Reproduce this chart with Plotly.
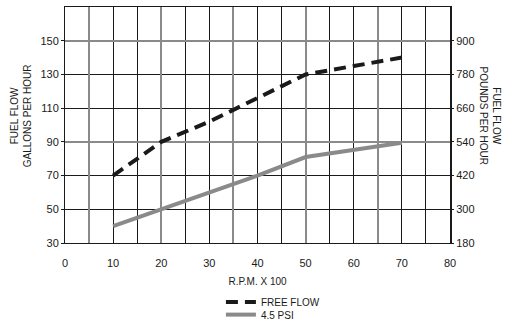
import plotly.graph_objects as go

rpm = [10, 20, 30, 40, 50, 60, 70]
free_flow = [70, 90, 102, 116, 130, 135, 140]
psi_45 = [40, 50, 60, 70, 81, 85, 89.5]

x_ticks = [0, 10, 20, 30, 40, 50, 60, 70, 80]
gph_ticks = [30, 50, 70, 90, 110, 130, 150]
pph_ticks = [180, 300, 420, 540, 660, 780, 900]
gray_x = [5, 20, 35, 50, 65]
gray_y = [90, 150]

FONT = "Liberation Sans, Arial, sans-serif"
BLACK = "#1a1a1a"
GRAY = "#8a8a8a"

fig = go.Figure()
fig.add_trace(go.Scatter(x=rpm, y=free_flow, mode="lines", name="FREE FLOW",
                         line=dict(color=BLACK, width=4, dash="12px,7px"),
                         legend="legend"))
fig.add_trace(go.Scatter(x=rpm, y=psi_45, mode="lines", name="4.5 PSI",
                         line=dict(color=GRAY, width=4), legend="legend2"))
# invisible traces to create the overlay axes
fig.add_trace(go.Scatter(x=[None], y=[None], xaxis="x2", yaxis="y3", showlegend=False, hoverinfo="skip"))
fig.add_trace(go.Scatter(x=[None], y=[None], xaxis="x", yaxis="y2", showlegend=False, hoverinfo="skip"))

fig.update_layout(
    width=505, height=320,
    margin=dict(l=65, r=55, t=7, b=77, autoexpand=False),
    paper_bgcolor="white", plot_bgcolor="white",
    font=dict(family=FONT, size=11, color=BLACK),
    xaxis=dict(range=[0, 80], tickvals=x_ticks, ticks="", ticklabelstandoff=10,
               showgrid=True, gridcolor=BLACK, gridwidth=1, automargin=False,
               minor=dict(dtick=5, tick0=0, showgrid=True, gridcolor=BLACK, gridwidth=1),
               showline=True, linecolor=BLACK, linewidth=1, mirror=True,
               zeroline=False, tickfont=dict(size=11),
               title=dict(text="R.P.M. X 100", font=dict(size=10), standoff=9)),
    xaxis2=dict(range=[0, 80], overlaying="x", anchor="y", tickvals=gray_x,
                showticklabels=False, ticks="", showgrid=True, gridcolor=GRAY,
                gridwidth=1.5, zeroline=False, showline=False, automargin=False),
    yaxis=dict(range=[30, 170], tickvals=gph_ticks, ticks="outside", ticklen=3,
               tickcolor=BLACK, showgrid=True, gridcolor=BLACK, gridwidth=1,
               showline=True, linecolor=BLACK, linewidth=1, zeroline=False,
               tickfont=dict(size=11), automargin=False),
    yaxis2=dict(range=[180, 1020], tickvals=pph_ticks, overlaying="y", side="right",
                anchor="x", ticks="outside", ticklen=2, tickcolor=BLACK,
                showgrid=False, showline=True, linecolor=BLACK, linewidth=2,
                zeroline=False, tickfont=dict(size=11), automargin=False),
    yaxis3=dict(range=[30, 170], overlaying="y", anchor="x2", tickvals=gray_y,
                showticklabels=False, ticks="", showgrid=True, gridcolor=GRAY,
                gridwidth=1.5, zeroline=False, showline=False, automargin=False),
    legend=dict(x=0.405, y=-0.189, xanchor="left", yanchor="top",
                font=dict(size=10), bgcolor="rgba(0,0,0,0)", itemwidth=30),
    legend2=dict(x=0.405, y=-0.242, xanchor="left", yanchor="top",
                 font=dict(size=10), bgcolor="rgba(0,0,0,0)", itemwidth=30),
    showlegend=True,
    annotations=[
        dict(text="FUEL FLOW<br>GALLONS PER HOUR", xref="paper", yref="paper",
             x=-0.115, y=0.54, textangle=-90, showarrow=False,
             font=dict(size=10), xanchor="center", yanchor="middle"),
        dict(text="FUEL FLOW<br>POUNDS PER HOUR", xref="paper", yref="paper",
             x=1.104, y=0.54, textangle=90, showarrow=False,
             font=dict(size=10), xanchor="center", yanchor="middle"),
    ],
)

fig.write_html("out.html", config={"displayModeBar": False},
               post_script="document.body.style.margin='0';")
